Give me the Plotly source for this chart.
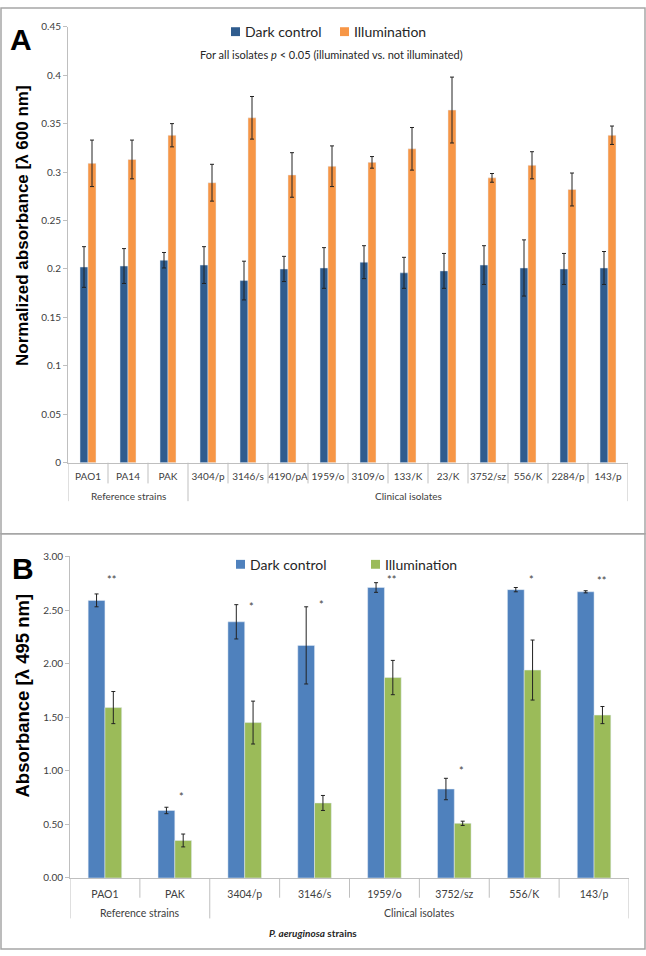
import plotly.graph_objects as go

# ---------------- Panel A data ----------------
a_groups = ["Reference strains", "Clinical isolates"]
a_group_sizes = [3, 11]
a_strains = ["PAO1", "PA14", "PAK", "3404/p", "3146/s", "4190/pA", "1959/o",
             "3109/o", "133/K", "23/K", "3752/sz", "556/K", "2284/p", "143/p"]
a_dark = [0.202, 0.203, 0.209, 0.204, 0.188, 0.200, 0.201,
          0.207, 0.196, 0.198, 0.204, 0.201, 0.200, 0.201]
a_dark_err = [0.021, 0.018, 0.008, 0.019, 0.020, 0.013, 0.021,
              0.017, 0.016, 0.018, 0.020, 0.029, 0.016, 0.017]
a_illum = [0.309, 0.313, 0.338, 0.289, 0.356, 0.297, 0.306,
           0.310, 0.324, 0.364, 0.294, 0.307, 0.282, 0.338]
a_illum_err = [0.024, 0.020, 0.012, 0.019, 0.022, 0.023, 0.021,
               0.006, 0.022, 0.034, 0.0045, 0.014, 0.017, 0.0095]
a_yticks = [0, 0.05, 0.1, 0.15, 0.2, 0.25, 0.3, 0.35, 0.4, 0.45]

# ---------------- Panel B data ----------------
b_groups = ["Reference strains", "Clinical isolates"]
b_group_sizes = [2, 6]
b_strains = ["PAO1", "PAK", "3404/p", "3146/s", "1959/o", "3752/sz", "556/K", "143/p"]
b_dark = [2.59, 0.63, 2.39, 2.17, 2.71, 0.83, 2.69, 2.67]
b_dark_err = [0.06, 0.03, 0.16, 0.36, 0.045, 0.10, 0.02, 0.01]
b_illum = [1.59, 0.35, 1.45, 0.70, 1.87, 0.51, 1.94, 1.52]
b_illum_err = [0.15, 0.06, 0.20, 0.07, 0.16, 0.02, 0.28, 0.08]
b_stars = ["**", "*", "*", "*", "**", "*", "*", "**"]
b_star_y = [2.82, 0.80, 2.57, 2.59, 2.82, 1.04, 2.82, 2.81]
b_yticks = [0, 0.5, 1.0, 1.5, 2.0, 2.5, 3.0]

W, H = 646, 956
FONT = "Lato, Carlito, Calibri, sans-serif"
BOLDFONT = "Liberation Sans, Arial, sans-serif"
TICKCOL = "#404040"
AXCOL = "#bfbfbf"

A_DARK = "#2F5C8E"
A_ORANGE = "#F79646"
B_BLUE = "#4F81BD"
B_GREEN = "#9BBB59"


def px_x(p):
    return p / W


def px_y(p):
    return 1 - p / H


fig = go.Figure()

err_style = dict(type="data", color="#222222", thickness=1, width=2)

fig.add_trace(go.Bar(x=a_strains, y=a_dark, name="Dark control",
                     marker_color=A_DARK, width=0.2, offset=-0.2,
                     error_y=dict(array=a_dark_err, **err_style),
                     xaxis="x", yaxis="y", showlegend=False))
fig.add_trace(go.Bar(x=a_strains, y=a_illum, name="Illumination",
                     marker_color=A_ORANGE, width=0.2, offset=0.0,
                     error_y=dict(array=a_illum_err, **err_style),
                     xaxis="x", yaxis="y", showlegend=False))
fig.add_trace(go.Bar(x=b_strains, y=b_dark, name="Dark control",
                     marker_color=B_BLUE, width=0.24, offset=-0.24,
                     error_y=dict(array=b_dark_err, **err_style),
                     xaxis="x2", yaxis="y2", showlegend=False))
fig.add_trace(go.Bar(x=b_strains, y=b_illum, name="Illumination",
                     marker_color=B_GREEN, width=0.24, offset=0.0,
                     error_y=dict(array=b_illum_err, **err_style),
                     xaxis="x2", yaxis="y2", showlegend=False))

xcommon = dict(type="category", showline=True, linecolor=AXCOL, linewidth=1,
               ticks="", tickangle=0, showgrid=False, zeroline=False)
ycommon = dict(showline=True, linecolor=AXCOL, linewidth=1, ticks="outside",
               ticklen=4, tickcolor=AXCOL, showgrid=False, zeroline=False,
               tickfont=dict(family=FONT, size=10, color=TICKCOL))

fig.update_layout(
    width=W, height=H, autosize=False,
    margin=dict(l=0, r=0, t=0, b=0),
    paper_bgcolor="white", plot_bgcolor="white",
    barmode="group",
    xaxis=dict(domain=[px_x(68), px_x(628)], anchor="y", range=[-0.5, len(a_strains) - 0.5],
               ticklabelstandoff=4,
               tickfont=dict(family=FONT, size=10, color=TICKCOL), **xcommon),
    yaxis=dict(domain=[px_y(462), px_y(20)], anchor="x", range=[0, 0.45],
               tickvals=a_yticks, **ycommon),
    xaxis2=dict(domain=[px_x(70), px_x(629)], anchor="y2", range=[-0.5, len(b_strains) - 0.5],
                ticklabelstandoff=6,
                tickfont=dict(family=FONT, size=10.5, color=TICKCOL), **xcommon),
    yaxis2=dict(domain=[px_y(883), px_y(557)], anchor="x2", range=[0, 3.0],
                tickvals=b_yticks, tickformat=".2f", **ycommon),
)

shapes = []
annots = []

# panel borders
shapes.append(dict(type="rect", xref="paper", yref="paper",
                   x0=px_x(1), x1=px_x(645), y0=px_y(534), y1=px_y(1),
                   line=dict(color="#a6a6a6", width=1.5)))
shapes.append(dict(type="rect", xref="paper", yref="paper",
                   x0=px_x(1), x1=px_x(645), y0=px_y(955), y1=px_y(534),
                   line=dict(color="#a6a6a6", width=1.5)))


def category_dividers(xref, n, sizes, groups, base, tick_end, grp_end, grp_label_y, fsize):
    # boundaries between categories (short) and between groups (long)
    group_edges = [-0.5]
    acc = -0.5
    for s in sizes:
        acc += s
        group_edges.append(acc)
    for k in range(n + 1):
        b = k - 0.5
        long = any(abs(b - g) < 1e-9 for g in group_edges)
        shapes.append(dict(type="line", xref=xref, yref="paper", x0=b, x1=b,
                           y0=px_y(base), y1=px_y(grp_end if long else tick_end),
                           line=dict(color=AXCOL, width=1)))
    for g, (lo, hi) in zip(groups, zip(group_edges[:-1], group_edges[1:])):
        annots.append(dict(xref=xref, yref="paper", x=(lo + hi) / 2, y=px_y(grp_label_y),
                           showarrow=False, xanchor="center", yanchor="middle", text=g,
                           font=dict(family=FONT, size=fsize, color=TICKCOL)))


category_dividers("x", len(a_strains), a_group_sizes, a_groups, 462, 483, 501, 496, 10)
category_dividers("x2", len(b_strains), b_group_sizes, b_groups, 883, 903, 924, 918, 10.5)


def legend_item(xpx, ypx, color, label):
    shapes.append(dict(type="rect", xref="paper", yref="paper",
                       x0=px_x(xpx), x1=px_x(xpx + 9),
                       y0=px_y(ypx + 4.5), y1=px_y(ypx - 4.5),
                       line=dict(width=0), fillcolor=color))
    annots.append(dict(xref="paper", yref="paper", x=px_x(xpx + 12), y=px_y(ypx),
                       xanchor="left", yanchor="middle", showarrow=False,
                       text=label, font=dict(family=FONT, size=14, color="#262626")))


legend_item(231, 25, A_DARK, "Dark control")
legend_item(340, 25, A_ORANGE, "Illumination")
legend_item(236, 565, B_BLUE, "Dark control")
legend_item(371, 565, B_GREEN, "Illumination")

# panel letters
annots.append(dict(xref="paper", yref="paper", x=px_x(21), y=px_y(33),
                   showarrow=False, text="<b>A</b>", xanchor="center", yanchor="middle",
                   font=dict(family=BOLDFONT, size=30, color="black")))
annots.append(dict(xref="paper", yref="paper", x=px_x(23), y=px_y(569),
                   showarrow=False, text="<b>B</b>", xanchor="center", yanchor="middle",
                   font=dict(family=BOLDFONT, size=30, color="black")))

# y-axis titles
annots.append(dict(xref="paper", yref="paper", x=px_x(23), y=px_y(222),
                   showarrow=False, textangle=-90, xanchor="center", yanchor="middle",
                   text="<b>Normalized absorbance [λ 600 nm]</b>",
                   font=dict(family=BOLDFONT, size=17, color="black")))
annots.append(dict(xref="paper", yref="paper", x=px_x(23), y=px_y(698),
                   showarrow=False, textangle=-90, xanchor="center", yanchor="middle",
                   text="<b>Absorbance [λ 495 nm]</b>",
                   font=dict(family=BOLDFONT, size=18.5, color="black")))

# subtitle A
annots.append(dict(xref="paper", yref="paper", x=px_x(331), y=px_y(48),
                   showarrow=False, xanchor="center", yanchor="middle",
                   text="For all isolates <i>p</i> &lt; 0.05 (illuminated vs. not illuminated)",
                   font=dict(family=FONT, size=11, color="#262626")))

# B x-axis title
annots.append(dict(xref="paper", yref="paper", x=px_x(313), y=px_y(939),
                   showarrow=False, xanchor="center", yanchor="middle",
                   text="<b><i>P. aeruginosa</i> strains</b>",
                   font=dict(family=FONT, size=10, color="#262626")))

# significance stars
for i, (s, yv) in enumerate(zip(b_stars, b_star_y)):
    annots.append(dict(xref="x2", yref="y2", x=i + 0.1, y=yv, yshift=-4,
                       showarrow=False, text=s, xanchor="center", yanchor="middle",
                       font=dict(family=FONT, size=11, color="#404040")))

fig.update_layout(shapes=shapes, annotations=annots)
fig.write_html("out.html",
               config={"displayModeBar": False},
               post_script="document.body.style.margin='0';"
                           "document.body.style.overflow='hidden';")
